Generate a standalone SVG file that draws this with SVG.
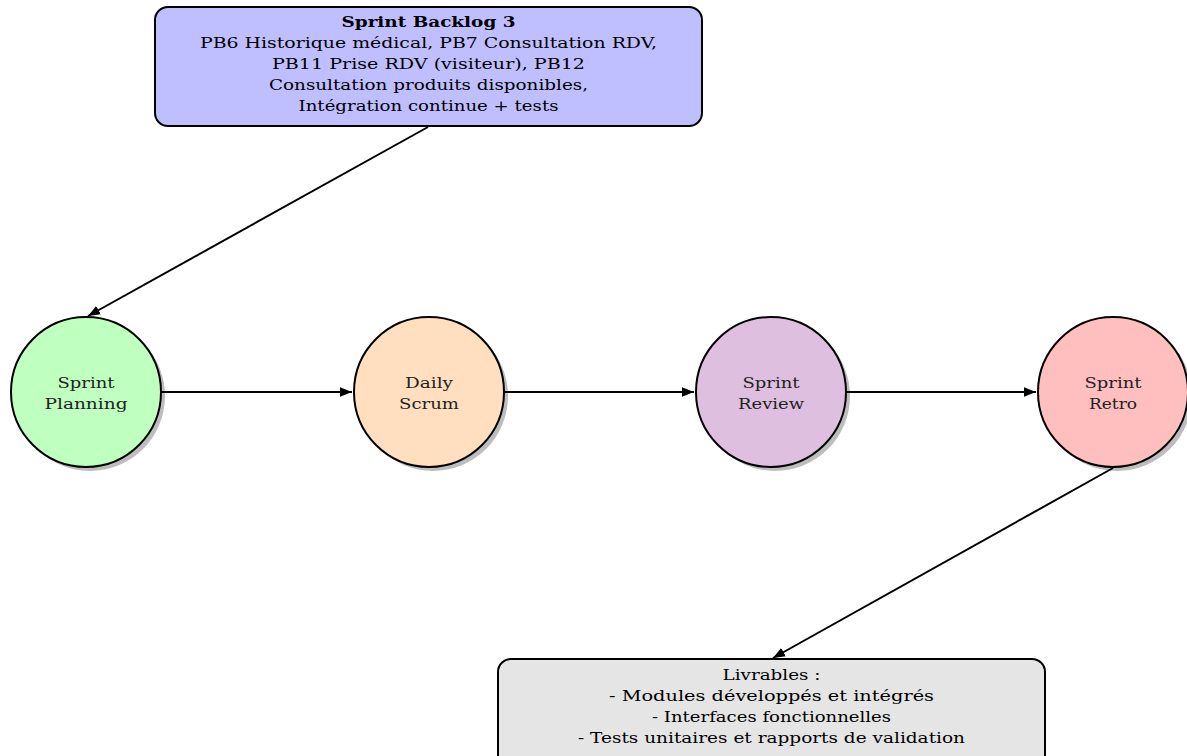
<svg xmlns="http://www.w3.org/2000/svg" width="1187" height="756" viewBox="0 0 1187 756">
  <style>
    .box { stroke: #000; stroke-width: 2; }
    .node { stroke: #000; stroke-width: 2; }
    .shadow { fill: #bdbdbd; }
    .lbl { font-family: "DejaVu Serif", "Liberation Serif", serif; font-size: 15px; text-anchor: middle; fill: #000; }
    .nlbl { font-family: "DejaVu Serif", "Liberation Serif", serif; font-size: 15px; text-anchor: middle; fill: #222; }
    .edge { stroke: #000; stroke-width: 2; fill: none; marker-end: url(#arrow); }
  </style>
  <defs>
    <marker id="arrow" viewBox="0 0 10 8" refX="10" refY="4" markerWidth="6" markerHeight="4.8" markerUnits="strokeWidth" orient="auto">
      <path d="M0,0 L10,4 L0,8 Z" fill="#000"/>
    </marker>
  </defs>

  <!-- sprint backlog -->
  <g id="backlog">
    <rect class="box" x="155" y="7" width="547" height="119" rx="13" fill="#bfbfff"/>
    <text class="lbl" x="428.5" y="27" font-weight="bold" textLength="174" lengthAdjust="spacingAndGlyphs">Sprint Backlog 3</text>
    <text class="lbl" x="428.5" y="48" textLength="457" lengthAdjust="spacingAndGlyphs">PB6 Historique médical, PB7 Consultation RDV,</text>
    <text class="lbl" x="428.5" y="69" textLength="313" lengthAdjust="spacingAndGlyphs">PB11 Prise RDV (visiteur), PB12</text>
    <text class="lbl" x="428.5" y="90" textLength="319" lengthAdjust="spacingAndGlyphs">Consultation produits disponibles,</text>
    <text class="lbl" x="428.5" y="111" textLength="260" lengthAdjust="spacingAndGlyphs">Intégration continue + tests</text>
  </g>

  <!-- ceremonies -->
  <g id="planning">
    <circle class="shadow" cx="90" cy="396" r="75"/>
    <circle class="node" cx="86" cy="392" r="75" fill="#bfffbf"/>
    <text class="nlbl" x="86" y="388" textLength="57" lengthAdjust="spacingAndGlyphs">Sprint</text>
    <text class="nlbl" x="86" y="409" textLength="83" lengthAdjust="spacingAndGlyphs">Planning</text>
  </g>
  <g id="daily">
    <circle class="shadow" cx="433" cy="396" r="75"/>
    <circle class="node" cx="429" cy="392" r="75" fill="#ffdfbf"/>
    <text class="nlbl" x="429" y="388" textLength="48" lengthAdjust="spacingAndGlyphs">Daily</text>
    <text class="nlbl" x="429" y="409" textLength="60" lengthAdjust="spacingAndGlyphs">Scrum</text>
  </g>
  <g id="review">
    <circle class="shadow" cx="775" cy="396" r="75"/>
    <circle class="node" cx="771" cy="392" r="75" fill="#dfbfdf"/>
    <text class="nlbl" x="771" y="388" textLength="57" lengthAdjust="spacingAndGlyphs">Sprint</text>
    <text class="nlbl" x="771" y="409" textLength="66" lengthAdjust="spacingAndGlyphs">Review</text>
  </g>
  <g id="retro">
    <circle class="shadow" cx="1117" cy="396" r="75"/>
    <circle class="node" cx="1113" cy="392" r="75" fill="#ffbfbf"/>
    <text class="nlbl" x="1113" y="388" textLength="57" lengthAdjust="spacingAndGlyphs">Sprint</text>
    <text class="nlbl" x="1113" y="409" textLength="48" lengthAdjust="spacingAndGlyphs">Retro</text>
  </g>

  <!-- deliverables -->
  <g id="livrables">
    <rect class="box" x="498" y="659" width="547" height="110" rx="13" fill="#e5e5e5"/>
    <text class="lbl" x="771.5" y="680" textLength="98" lengthAdjust="spacingAndGlyphs">Livrables :</text>
    <text class="lbl" x="771.5" y="701" textLength="325" lengthAdjust="spacingAndGlyphs">- Modules développés et intégrés</text>
    <text class="lbl" x="771.5" y="722" textLength="239" lengthAdjust="spacingAndGlyphs">- Interfaces fonctionnelles</text>
    <text class="lbl" x="771.5" y="743" textLength="387" lengthAdjust="spacingAndGlyphs">- Tests unitaires et rapports de validation</text>
  </g>

  <g id="connectors">
    <line class="edge" x1="428" y1="127" x2="88" y2="316"/>
    <line class="edge" x1="161" y1="392" x2="352" y2="392"/>
    <line class="edge" x1="504" y1="392" x2="694" y2="392"/>
    <line class="edge" x1="846" y1="392" x2="1036" y2="392"/>
    <line class="edge" x1="1113" y1="468" x2="773" y2="658"/>
  </g>
</svg>
